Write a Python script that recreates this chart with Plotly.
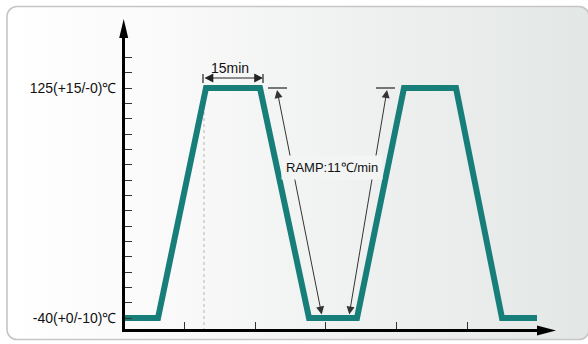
import base64
import plotly.graph_objects as go

# ---------------- data ----------------
time_min = [0, 8.5, 20.5, 34, 46.25, 58.25, 70, 83, 94.5, 103.25]
temp_c = [-40, -40, 125, 125, -40, -40, 125, 125, -40, -40]

y_tick_vals = [-40 + 11 * k for k in range(18)]
y_label_vals = {125: "125(+15/-0)℃", -40: "-40(+0/-10)℃"}
x_tick_vals = [15, 32.75, 50.25, 68, 85.75]
dwell_label = "15min"
ramp_label = "RAMP:11℃/min"

# ---------------- geometry (pixels) ----------------
W, H = 588, 344
L, R, T, B = 125, 545, 30, 329
X0_PX, PX_PER_MIN = 124, 4.0          # t=0 at pixel 124
Y_LOW_PX, Y_HIGH_PX = 318, 88         # -40 and 125 levels


def t_of(px):
    return (px - X0_PX) / PX_PER_MIN


def c_of(py):
    return -40 + (Y_LOW_PX - py) * 165 / (Y_LOW_PX - Y_HIGH_PX)


def pxp(x):
    return (x - L) / (R - L)


def pyp(y):
    return (B - y) / (B - T)


TEAL = "#177e7a"
FONT = "Liberation Sans, Arial, sans-serif"

fig = go.Figure()

# dotted guide at start of dwell
fig.add_trace(go.Scatter(x=[t_of(204), t_of(204)], y=[125, c_of(B + 5)], mode="lines",
                         line=dict(color="#b5b5b5", width=1, dash="dot"),
                         hoverinfo="skip", showlegend=False))

# temperature profile
fig.add_trace(go.Scatter(x=time_min, y=temp_c, mode="lines",
                         line=dict(color=TEAL, width=6),
                         hoverinfo="skip", showlegend=False))

shapes = []
# 15min end bars
for xp in (203, 263):
    shapes.append(dict(type="line", xref="x", yref="y", x0=t_of(xp), x1=t_of(xp),
                       y0=c_of(74), y1=c_of(83), line=dict(color="#222", width=1.2)))
# short level marks at 125
for a, b in ((268, 287), (376, 395)):
    shapes.append(dict(type="line", xref="x", yref="y", x0=t_of(a), x1=t_of(b),
                       y0=125, y1=125, line=dict(color="#222", width=1.2)))
# axis arrowheads
shapes.append(dict(type="path", xref="paper", yref="paper",
                   path=f"M{pxp(123.7)},{pyp(19)} L{pxp(119.2)},{pyp(38)} L{pxp(128.2)},{pyp(38)} Z",
                   fillcolor="black", line=dict(width=0)))
shapes.append(dict(type="path", xref="paper", yref="paper",
                   path=f"M{pxp(556)},{pyp(330.5)} L{pxp(537)},{pyp(325.5)} L{pxp(537)},{pyp(335.5)} Z",
                   fillcolor="black", line=dict(width=0)))

annotations = []
# 15min double arrow
annotations.append(dict(x=t_of(263), y=c_of(78), ax=t_of(203), ay=c_of(78), xref="x", yref="y",
                        axref="x", ayref="y", showarrow=True, arrowhead=2, startarrowhead=2,
                        arrowside="end+start", arrowsize=1.6, startarrowsize=1.6,
                        arrowwidth=1.1, arrowcolor="#222", text=""))
annotations.append(dict(x=t_of(230), y=c_of(68), xref="x", yref="y", text=dwell_label,
                        showarrow=False, font=dict(family=FONT, size=14, color="#111")))
# ramp arrows
for top, bot in (((277, 90), (322, 316)), ((387, 90), (349, 316))):
    annotations.append(dict(x=t_of(top[0]), y=c_of(top[1]), ax=t_of(bot[0]), ay=c_of(bot[1]),
                            xref="x", yref="y", axref="x", ayref="y", showarrow=True,
                            arrowhead=2, startarrowhead=2, arrowside="end+start",
                            arrowsize=1.6, startarrowsize=1.6, arrowwidth=1.0,
                            arrowcolor="#333", text=""))
annotations.append(dict(x=t_of(332), y=c_of(167), xref="x", yref="y", text=ramp_label,
                        showarrow=False, bgcolor="#f3f5f4", borderpad=4,
                        font=dict(family=FONT, size=13, color="#111")))

# background frame as gradient svg
svg = ("<svg xmlns='http://www.w3.org/2000/svg' width='588' height='344' viewBox='0 0 588 344'>"
       "<defs><linearGradient id='g' x1='0' y1='0' x2='1' y2='0'>"
       "<stop offset='0' stop-color='#ffffff'/><stop offset='0.3' stop-color='#f8f9f8'/>"
       "<stop offset='1' stop-color='#e3e7e5'/></linearGradient></defs>"
       "<rect x='7' y='6.5' width='582' height='333' rx='10' ry='10' fill='url(#g)' "
       "stroke='#c6c6c6' stroke-width='1.6'/></svg>")
src = "data:image/svg+xml;base64," + base64.b64encode(svg.encode()).decode()
pw, ph = R - L, B - T
images = [dict(source=src, xref="paper", yref="paper", x=-L / pw, y=1 + T / ph,
               sizex=W / pw, sizey=H / ph, sizing="stretch", xanchor="left",
               yanchor="top", layer="below")]

fig.update_layout(
    width=W, height=H,
    margin=dict(l=L, r=W - R, t=T, b=H - B, pad=0),
    paper_bgcolor="white", plot_bgcolor="rgba(0,0,0,0)",
    shapes=shapes, annotations=annotations, images=images,
    xaxis=dict(range=[t_of(L), t_of(R)], showgrid=False, zeroline=False,
               showline=True, linecolor="black", linewidth=2.5,
               ticks="inside", ticklen=7, tickwidth=1.3, tickcolor="#333",
               tickvals=x_tick_vals, showticklabels=False, fixedrange=True),
    yaxis=dict(range=[c_of(B), c_of(T)], showgrid=False, zeroline=False,
               showline=True, linecolor="black", linewidth=2.5,
               ticks="inside", ticklen=7, tickwidth=1.3, tickcolor="#333",
               tickvals=y_tick_vals,
               ticktext=[y_label_vals.get(v, "") for v in y_tick_vals],
               ticklabelstandoff=3,
               tickfont=dict(family=FONT, size=14, color="#111"), fixedrange=True),
)

fig.write_html("out.html", config={"displayModeBar": False},
               post_script="document.body.style.margin='0';document.body.style.overflow='hidden';")
